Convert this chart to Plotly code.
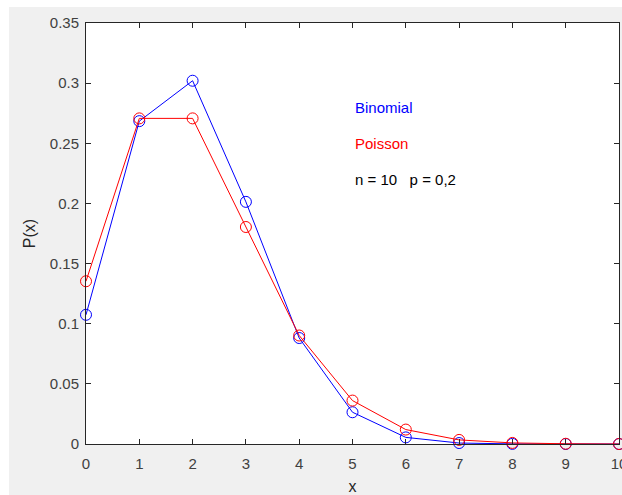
import plotly.graph_objects as go

x_vals = [0, 1, 2, 3, 4, 5, 6, 7, 8, 9, 10]
binomial = [0.1074, 0.2684, 0.3020, 0.2013, 0.0881, 0.0264, 0.0055, 0.0008, 0.0001, 0.0000, 0.0000]
poisson = [0.1353, 0.2707, 0.2707, 0.1804, 0.0902, 0.0361, 0.0120, 0.0034, 0.0009, 0.0002, 0.0000]
y_ticks = [0, 0.05, 0.1, 0.15, 0.2, 0.25, 0.3, 0.35]
y_tick_labels = ["0", "0.05", "0.1", "0.15", "0.2", "0.25", "0.3", "0.35"]
labels = ["Binomial", "Poisson", "n = 10   p = 0,2"]
label_y = [0.28, 0.25, 0.22]
label_colors = ["#0000ff", "#ff0000", "#000000"]

FONT = "Liberation Sans, Arial"

fig = go.Figure()
fig.add_trace(go.Scatter(x=x_vals, y=binomial, mode="lines+markers",
                         line=dict(color="#0000ff", width=1),
                         marker=dict(symbol="circle-open", size=11, color="#0000ff", line=dict(width=1)),
                         cliponaxis=False, showlegend=False))
fig.add_trace(go.Scatter(x=x_vals, y=poisson, mode="lines+markers",
                         line=dict(color="#ff0000", width=1),
                         marker=dict(symbol="circle-open", size=11, color="#ff0000", line=dict(width=1)),
                         cliponaxis=False, showlegend=False))

for t, yy, c in zip(labels, label_y, label_colors):
    fig.add_annotation(x=5, y=yy, text=t.replace(" ", "&nbsp;"), showarrow=False, xanchor="left", yanchor="middle",
                       font=dict(color=c, size=15, family=FONT))

# white strips at the top and left edge of the window (outside the grey figure area)
fig.add_shape(type="rect", xref="paper", yref="paper", x0=-0.3, x1=1.1, y0=1.038, y1=1.2,
              fillcolor="white", line=dict(width=0), layer="below")
fig.add_shape(type="rect", xref="paper", yref="paper", x0=-0.3, x1=-0.1445, y0=-0.2, y1=1.2,
              fillcolor="white", line=dict(width=0), layer="below")

axis_common = dict(showgrid=False, zeroline=False, showline=True, linecolor="#262626", linewidth=1,
                   mirror="ticks", ticks="inside", ticklen=5, tickcolor="#262626",
                   ticklabeloverflow="allow", automargin=False,
                   tickfont=dict(size=15, color="#404040", family=FONT))

fig.update_xaxes(range=[0, 10], tickmode="array", tickvals=x_vals, ticktext=[str(v) for v in x_vals],
                 ticklabelstandoff=6,
                 title=dict(text="x", font=dict(size=16, color="#262626", family=FONT), standoff=12),
                 **axis_common)
fig.update_yaxes(range=[0, 0.35], tickmode="array", tickvals=y_ticks, ticktext=y_tick_labels,
                 ticklabelstandoff=3,
                 title=dict(text="P(x)", font=dict(size=16, color="#262626", family=FONT), standoff=10),
                 **axis_common)

fig.update_layout(width=622, height=495, margin=dict(l=86, r=3, t=23, b=51),
                  paper_bgcolor="#f0f0f0", plot_bgcolor="white",
                  font=dict(family=FONT))

fig.write_html("out.html")
